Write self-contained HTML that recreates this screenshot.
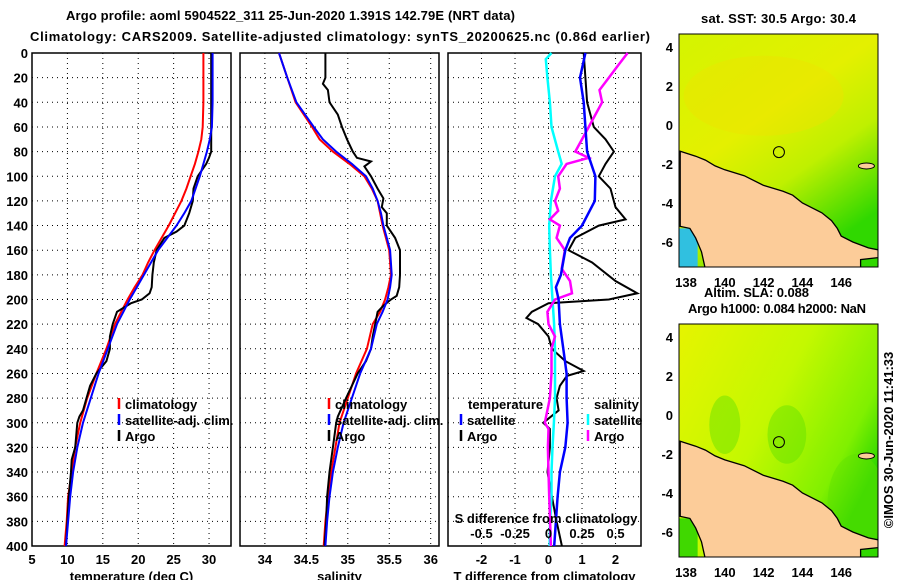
<!DOCTYPE html>
<html><head><meta charset="utf-8"><style>
body{margin:0;background:#fff}
svg text{font-family:"Liberation Sans",sans-serif;font-weight:bold;font-size:13px;fill:#000}
</style></head><body>
<svg id="c" width="900" height="580" xmlns="http://www.w3.org/2000/svg">
<defs>
<linearGradient id="sstg" x1="0" y1="0" x2="0.6" y2="1">
<stop offset="0" stop-color="#d4f400"/><stop offset="0.45" stop-color="#e4f000"/><stop offset="0.7" stop-color="#bff000"/><stop offset="1" stop-color="#30d800"/></linearGradient>
<linearGradient id="slag" x1="0" y1="0" x2="1" y2="0.6">
<stop offset="0" stop-color="#e6f400"/><stop offset="0.5" stop-color="#c4f800"/><stop offset="0.85" stop-color="#80f000"/><stop offset="1" stop-color="#30d800"/></linearGradient>
<clipPath id="m1c"><rect x="679" y="34" width="199" height="233"/></clipPath>
<clipPath id="m2c"><rect x="679" y="324" width="199" height="233"/></clipPath>
</defs>
<text x="66" y="20" textLength="449" font-size="14">Argo profile: aoml 5904522_311 25-Jun-2020 1.391S 142.79E (NRT data)</text>
<text x="30" y="41" textLength="620" font-size="14">Climatology: CARS2009. Satellite-adjusted climatology: synTS_20200625.nc (0.86d earlier)</text>
<g id="plots"></g>
<g id="maps"></g>
<text x="701" y="23" textLength="155">sat. SST: 30.5 Argo: 30.4</text>
<text x="704" y="297" textLength="105">Altim. SLA: 0.088</text>
<text x="688" y="313" textLength="178">Argo h1000: 0.084 h2000: NaN</text>
<text transform="translate(893,440) rotate(-90)" text-anchor="middle" font-weight="normal">©IMOS 30-Jun-2020 11:41:33</text>
</svg>
<script>
const depths=[0,20,40,60,70,80,90,100,110,120,130,140,150,160,170,180,190,200,210,220,240,260,280,300,320,340,360,380,400];
const tClim=[29.2,29.2,29.2,29.1,28.9,28.5,28.0,27.4,26.8,26.1,25.2,24.3,23.3,22.3,21.4,20.6,19.5,18.5,17.6,16.7,15.5,14.1,12.8,11.8,11.1,10.6,10.1,9.9,9.6];
const tSat=[30.5,30.5,30.5,30.4,30.1,29.7,29.2,28.7,28.1,27.5,26.5,25.4,24.1,22.8,21.8,20.8,19.8,18.8,17.9,17.0,15.7,14.4,13.3,12.2,11.4,10.8,10.4,10.1,9.8];
const argoTd=[0,20,40,60,80,85,90,100,110,120,130,140,145,150,160,170,180,190,195,200,203,210,220,230,240,250,260,270,280,290,295,300,320,330,340,360,380,400];
const tArgo=[30.3,30.3,30.3,30.3,30.3,30.0,29.6,28.4,27.8,27.7,27.2,26.5,25.4,23.7,22.6,22.2,22.0,21.9,21.6,20.5,19.0,17.0,16.4,16.0,16.0,15.5,14.1,13.2,12.7,12.2,11.7,11.4,11.1,10.6,10.5,10.2,10.0,9.8];
const sClim=[34.17,34.27,34.37,34.57,34.66,34.82,35.02,35.2,35.29,35.36,35.39,35.42,35.46,35.5,35.51,35.52,35.49,35.45,35.39,35.3,35.23,35.1,35.0,34.9,34.85,34.8,34.76,34.73,34.71];
const sSat=[34.17,34.27,34.38,34.59,34.7,34.86,35.05,35.22,35.3,35.36,35.4,35.43,35.47,35.51,35.52,35.53,35.51,35.48,35.42,35.35,35.28,35.15,35.05,34.95,34.88,34.82,34.78,34.75,34.73];
const argoSd=[0,20,25,30,40,50,60,70,80,85,88,92,100,110,118,125,130,140,150,160,180,190,197,200,205,210,220,230,240,250,260,280,295,300,320,340,360,380,400];
const sArgo=[34.73,34.73,34.70,34.76,34.78,34.88,34.93,34.99,35.06,35.11,35.28,35.2,35.28,35.36,35.43,35.41,35.47,35.47,35.57,35.63,35.63,35.62,35.59,35.52,35.43,35.36,35.33,35.3,35.28,35.22,35.12,34.98,34.88,34.86,34.82,34.78,34.75,34.74,34.72];
const dTSatD=[0,20,40,60,80,100,120,140,150,160,180,190,200,220,240,260,280,300,320,340,360,380,400];
const dTSat=[1.1,0.94,1.05,1.1,1.15,1.4,1.38,1.0,0.64,0.5,0.37,0.22,0.3,0.34,0.44,0.54,0.54,0.57,0.5,0.34,0.27,0.22,0.17];
const dTArgoD=[0,20,40,60,70,80,90,100,110,125,135,140,150,160,170,185,195,200,203,210,215,220,230,240,250,258,262,270,280,290,300,305,320,340,360,380,400];
const dTArgo=[1.05,1.1,1.15,1.35,1.7,1.95,1.7,1.5,1.85,2.0,2.3,1.5,0.8,0.6,1.3,2.0,2.65,1.8,0,-0.5,-0.66,-0.31,0,0.1,0.5,1.05,0.55,0.34,0.24,0.3,-0.16,0.04,0.04,-0.03,0.1,0.24,0.4];
const dSSatD=[0,5,20,40,60,80,90,100,120,140,160,180,200,220,240,260,280,300,320,340,360,380,400];
const dSSat=[0.022,-0.02,-0.008,0.01,0.022,0.072,0.098,0.048,0.018,0.005,0.01,0.018,0.03,0.042,0.048,0.048,0.048,0.04,0.03,0.022,0.022,0.012,0.008];
const dSArgoD=[0,10,20,30,40,50,60,80,85,90,100,110,120,128,135,140,150,160,175,185,195,200,210,220,230,240,260,280,300,305,320,340,360,380,400];
const dSArgo=[0.59,0.52,0.45,0.38,0.4,0.35,0.3,0.2,0.3,0.135,0.072,0.085,0.048,0.072,0.01,0.085,0.06,0.122,0.098,0.16,0.175,0.048,-0.008,0,0.048,0.022,0.022,0.01,-0.028,0,-0.005,0,0.005,0.012,0.018];
const depthTicks=[0,20,40,60,80,100,120,140,160,180,200,220,240,260,280,300,320,340,360,380,400];
const tTicks=[5,10,15,20,25,30];
const sTicks=[34,34.5,35,35.5,36];
const dtTicks=[-2,-1,0,1,2];
const dsTicks=[-0.5,-0.25,0,0.25,0.5];

const NS='http://www.w3.org/2000/svg';
const P=document.getElementById('plots');
function mk(tag,at,par){const e=document.createElementNS(NS,tag);for(const k in at)e.setAttribute(k,at[k]);(par||P).appendChild(e);return e;}
const Y0=53,Y1=546;
const yS=d=>Y0+(Y1-Y0)*d/400;
const panels=[
 {x0:32,x1:231,v0:5,v1:33.1,ticks:tTicks,lab:'temperature (deg C)',name:'temperature-panel'},
 {x0:240,x1:439,v0:33.7,v1:36.1,ticks:sTicks,lab:'salinity',name:'salinity-panel'},
 {x0:448,x1:641,v0:-3.0,v1:2.76,ticks:dtTicks,lab:'T difference from climatology',name:'difference-panel'}];
panels.forEach(p=>{p.xs=v=>p.x0+(p.x1-p.x0)*(v-p.v0)/(p.v1-p.v0);});
panels.forEach((p,i)=>{
 const g=mk('g',{});
 
 
 p.ticks.forEach(t=>{const x=p.xs(t);
  const l=mk('line',{x1:x,x2:x,y1:Y0,y2:Y1,stroke:'#000','stroke-dasharray':'1 4'},g);
  
  
  const tx=mk('text',{x:x,y:564,'text-anchor':'middle'},g);tx.textContent=t;
  
  });
 depthTicks.forEach(d=>{const y=yS(d);
  if(d>0&&d<400){const l=mk('line',{x1:p.x0,x2:p.x1,y1:y,y2:y,stroke:'#000','stroke-dasharray':'1 4'},g);
  
  }
  if(i==0){const tx=mk('text',{x:28,y:y+5,'text-anchor':'end'},g);tx.textContent=d;
  
  }});
 const r=mk('rect',{x:p.x0,y:Y0,width:p.x1-p.x0,height:Y1-Y0,fill:'none',stroke:'#000','stroke-width':1.5},g);
 
 
 const al=mk('text',{x:(p.x0+p.x1)/2,y:581,'text-anchor':'middle'},g);al.textContent=p.lab;
 
 
});
function line(p,vals,ds,col,name,w){
 const pts=vals.map((v,k)=>p.xs(v).toFixed(1)+','+yS(ds[k]).toFixed(1)).join(' ');
 const e=mk('polyline',{points:pts,fill:'none',stroke:col,'stroke-width':w||2});
 
 }
line(panels[0],tClim,depths,'#ff0000','temp-climatology-line');
line(panels[0],tArgo,argoTd,'#000','temp-argo-line');
line(panels[0],tSat,depths,'#0000ff','temp-satellite-line');
line(panels[1],sClim,depths,'#ff0000','sal-climatology-line');
line(panels[1],sArgo,argoSd,'#000','sal-argo-line');
line(panels[1],sSat,depths,'#0000ff','sal-satellite-line');
const p3=panels[2];
line(p3,dTArgo,dTArgoD,'#000','tdiff-argo-line');
line(p3,dSSat.map(v=>v*4),dSSatD,'#00ffff','sdiff-satellite-line',2.5);
line(p3,dSArgo.map(v=>v*4),dSArgoD,'#ff00ff','sdiff-argo-line',2.5);
line(p3,dTSat,dTSatD,'#0000ff','tdiff-satellite-line',2.5);
const st=mk('text',{x:546,y:523,'text-anchor':'middle'});st.textContent='S difference from climatology';


dsTicks.forEach(s=>{const t=mk('text',{x:p3.xs(s*4),y:538,'text-anchor':'middle'});t.textContent=s;
 
 });
function leg(x,y,col,txt,name){
 const m=mk('line',{x1:x,x2:x,y1:y-11,y2:y,stroke:col,'stroke-width':2.5});
 
 
 const t=mk('text',{x:x+6,y:y});t.textContent=txt;
 
 }
leg(119,409,'#ff0000','climatology','legend-climatology');
leg(119,425,'#0000ff','satellite-adj. clim.','legend-satellite-adj');
leg(119,441,'#000','Argo','legend-argo');
leg(329,409,'#ff0000','climatology','legend-climatology-2');
leg(329,425,'#0000ff','satellite-adj. clim.','legend-satellite-adj-2');
leg(329,441,'#000','Argo','legend-argo-2');
const tt=mk('text',{x:468,y:409});tt.textContent='temperature';


const ss=mk('text',{x:594,y:409});ss.textContent='salinity';


leg(461,425,'#0000ff','satellite','legend-t-satellite');
leg(461,441,'#000','Argo','legend-t-argo');
leg(588,425,'#00ffff','satellite','legend-s-satellite');
leg(588,441,'#ff00ff','Argo','legend-s-argo');

const M=document.getElementById('maps');
const lonTicks=[138,140,142,144,146];
const latTicks=[4,2,0,-2,-4,-6];
const coast=[[137.7,-1.35],[138.5,-1.6],[139,-1.8],[139.5,-2.1],[140,-2.3],[141,-2.6],[142,-3.1],[143,-3.4],[143.5,-3.6],[144,-4.0],[145,-4.5],[145.5,-4.9],[145.8,-5.3],[146,-5.7],[146.6,-6.0],[147.4,-6.3],[147.9,-6.4],[147.9,-6.8],[147,-6.9],[147,-7.4],[139,-7.4],[138.8,-6.5],[138.5,-5.8],[138.2,-5.3],[137.7,-5.2]];
[{dy:0,fill:'url(#sstg)',clip:'m1c',name:'sst-map',sw:'#30c0e0'},{dy:290,fill:'url(#slag)',clip:'m2c',name:'sla-map',sw:'#40d800'}].forEach(m=>{
 const lx=l=>686+(l-138)*19.4, ly=a=>47+m.dy+(4-a)*19.5;
 const g=mk('g',{'clip-path':'url(#'+m.clip+')'},M);
 
 
 mk('rect',{x:679,y:34+m.dy,width:199,height:233,fill:m.fill},g);
 if(m.dy){[[140,-0.5,0.8,1.5],[143.2,-1,1,1.5],[146.8,-4.5,1.5,2.5]].forEach(b=>mk('ellipse',{cx:lx(b[0]),cy:ly(b[1]),rx:b[2]*19.4,ry:b[3]*19.5,fill:'#60e000',opacity:0.45},g));}
 else{mk('ellipse',{cx:lx(142),cy:ly(1.5),rx:80,ry:40,fill:'#f0e000',opacity:0.4},g);}
 mk('rect',{x:679,y:ly(-5.3),width:lx(138.6)-679,height:60,fill:m.sw},g);
 mk('polygon',{points:coast.map(c=>lx(c[0]).toFixed(1)+','+ly(c[1]).toFixed(1)).join(' '),fill:'#fccc99',stroke:'#000','stroke-width':1.3},g);
 mk('ellipse',{cx:lx(147.3),cy:ly(-2.1),rx:8,ry:3,fill:'#fccc99',stroke:'#000'},g);
 const ci=mk('circle',{cx:lx(142.79),cy:ly(-1.391),r:5.5,fill:'none',stroke:'#000'},M);
 
 
 const fr=mk('rect',{x:679,y:34+m.dy,width:199,height:233,fill:'none',stroke:'#000'},M);
 
 
 lonTicks.forEach(l=>{const t=mk('text',{x:lx(l),y:287+m.dy,'text-anchor':'middle'},M);t.textContent=l;
  
  });
 latTicks.forEach(a=>{const t=mk('text',{x:673,y:ly(a)+5,'text-anchor':'end'},M);t.textContent=a;
  
  });
});
</script>
</body></html>
